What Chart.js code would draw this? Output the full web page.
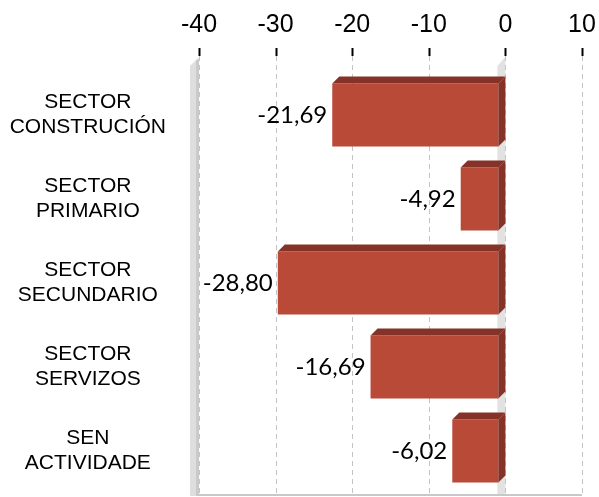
<!DOCTYPE html>
<html>
<head>
<meta charset="utf-8">
<script src="https://cdn.jsdelivr.net/npm/chart.js@4.4.0/dist/chart.umd.min.js"></script>
<style>
  html, body { margin: 0; padding: 0; background: #fff; overflow: hidden; }
  canvas { display: block; }
</style>
</head>
<body>
<canvas id="barChart" width="599" height="497"></canvas>
<script>
// data
var categories = [['SECTOR', 'CONSTRUCIÓN'], ['SECTOR', 'PRIMARIO'], ['SECTOR', 'SECUNDARIO'], ['SECTOR', 'SERVIZOS'], ['SEN', 'ACTIVIDADE']];
var values = [-21.69, -4.92, -28.80, -16.69, -6.02];
var tickValues = [-40, -30, -20, -10, 0, 10];

var depth = 7;
var frontColor = 'rgb(185, 74, 56)';
var darkColor = 'rgb(133, 50, 40)';

// fake 3d: walls, dashed grid, extruded bars, value labels
var fake3d = {
    id: 'fake3d',
    beforeDatasetsDraw: function (chart) {
        var ctx = chart.ctx, xs = chart.scales.x, area = chart.chartArea;
        var top = area.top - 15, bottom = area.bottom + 3;
        ctx.save();
        // back wall on the left
        var xl = xs.getPixelForValue(tickValues[0]);
        ctx.fillStyle = '#dedede';
        ctx.beginPath();
        ctx.moveTo(xl - 9, top + 8); ctx.lineTo(xl - 1, top); ctx.lineTo(xl, top);
        ctx.lineTo(xl, bottom); ctx.lineTo(xl - 9, bottom); ctx.closePath();
        ctx.fill();
        ctx.fillStyle = '#cacaca';
        ctx.fillRect(xl - 3, top + 2, 3, bottom - top - 2);
        // zero plane
        var x0 = xs.getPixelForValue(0);
        ctx.fillStyle = '#e2e2e2';
        ctx.beginPath();
        ctx.moveTo(x0 - 8, top + 8); ctx.lineTo(x0 - 1, top); ctx.lineTo(x0, top);
        ctx.lineTo(x0, bottom); ctx.lineTo(x0 - 8, bottom); ctx.closePath();
        ctx.fill();
        // floor line
        ctx.strokeStyle = '#c8c8c8';
        ctx.lineWidth = 2;
        ctx.beginPath();
        ctx.moveTo(xl, bottom - 1); ctx.lineTo(area.right, bottom - 1);
        ctx.stroke();
        // grid
        tickValues.forEach(function (v) {
            var x = Math.round(xs.getPixelForValue(v)) + 0.5;
            ctx.setLineDash([]);
            ctx.strokeStyle = '#000';
            ctx.lineWidth = 2;
            ctx.beginPath(); ctx.moveTo(x, top - 10); ctx.lineTo(x, top - 2); ctx.stroke();
            ctx.setLineDash([5, 4]);
            ctx.strokeStyle = '#c4c4c4';
            ctx.lineWidth = 1;
            ctx.beginPath(); ctx.moveTo(x, top - 2); ctx.lineTo(x, bottom - 2); ctx.stroke();
        });
        ctx.restore();
        // bars are drawn shifted to the front
        ctx.save();
        ctx.translate(-depth, 0);
    },
    afterDatasetsDraw: function (chart) {
        var ctx = chart.ctx;
        var meta = chart.getDatasetMeta(0);
        meta.data.forEach(function (bar, i) {
            var left = Math.min(bar.x, bar.base), right = Math.max(bar.x, bar.base);
            var t = bar.y - bar.height / 2, b = bar.y + bar.height / 2;
            ctx.fillStyle = darkColor;
            ctx.beginPath();
            ctx.moveTo(left, t); ctx.lineTo(left + depth, t - depth);
            ctx.lineTo(right + depth, t - depth); ctx.lineTo(right, t); ctx.closePath();
            ctx.fill();
            ctx.beginPath();
            ctx.moveTo(right, t); ctx.lineTo(right + depth, t - depth);
            ctx.lineTo(right + depth, b - depth); ctx.lineTo(right, b); ctx.closePath();
            ctx.fill();
            ctx.fillStyle = '#000';
            ctx.font = '24px Lato';
            ctx.textAlign = 'right';
            ctx.textBaseline = 'middle';
            ctx.fillText(values[i].toFixed(2).replace('.', ','), left - 5, bar.y);
        });
        ctx.restore();
    }
};

function noPad(s) {
    s.paddingLeft = 0; s.paddingRight = 0; s.paddingTop = 0; s.paddingBottom = 0;
}

var ctx = document.getElementById('barChart').getContext('2d');
var myChart = new Chart(ctx, {
    type: 'bar',
    data: {
        labels: categories,
        datasets: [{
            data: values,
            backgroundColor: frontColor,
            borderWidth: 0,
            barPercentage: 0.75,
            categoryPercentage: 1
        }]
    },
    options: {
        indexAxis: 'y',
        responsive: false,
        animation: false,
        layout: { padding: { left: 0, right: 17, top: 0, bottom: 4 } },
        plugins: { legend: { display: false }, tooltip: { enabled: false } },
        scales: {
            x: {
                position: 'top',
                min: -40,
                max: 10,
                afterFit: function (s) { s.height = 73; noPad(s); },
                afterBuildTicks: function (s) { s.ticks = tickValues.map(function (v) { return { value: v }; }); },
                grid: { display: false, drawTicks: false },
                border: { display: false },
                ticks: { color: '#000', padding: 33, font: { family: 'Liberation Sans', size: 25 } }
            },
            y: {
                afterFit: function (s) { s.width = 199; noPad(s); },
                grid: { display: false, drawTicks: false },
                border: { display: false },
                ticks: { color: '#000', padding: 33, crossAlign: 'center', font: { family: 'Liberation Sans', size: 21, lineHeight: 1.2 } }
            }
        }
    },
    plugins: [fake3d]
});
</script>
</body>
</html>
